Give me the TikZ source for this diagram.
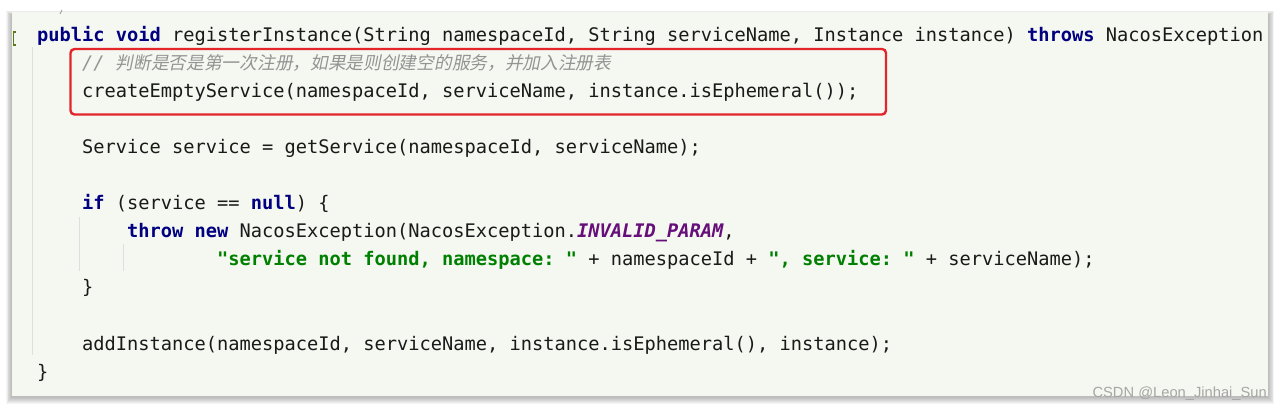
\documentclass[tikz,border=0pt]{standalone}
\usepackage{fontspec}
\newfontfamily\code{DejaVu Sans Mono}
\newfontfamily\cjk{Noto Sans CJK SC}[FakeSlant=0.2]
\newfontfamily\wmfont{Liberation Sans}
\definecolor{kw}{HTML}{000080}
\definecolor{strc}{HTML}{008000}
\definecolor{constc}{HTML}{660E7A}
\definecolor{cmt}{HTML}{949494}
\definecolor{txt}{HTML}{1A1A1A}
\definecolor{panel}{HTML}{F4F8F0}
\definecolor{guide}{HTML}{DEDEDE}
\definecolor{redbox}{HTML}{E4262A}
\definecolor{wm}{HTML}{A6A6A6}
\newcommand{\K}[1]{{\bfseries\color{kw}#1}}
\newcommand{\Sg}[1]{{\bfseries\color{strc}#1}}
\newcommand{\Cn}[1]{{\bfseries\itshape\color{constc}#1}}
\frenchspacing
\begin{document}
\begin{tikzpicture}[x=1pt,y=-1pt,
  codeline/.style={anchor=base west,inner sep=0pt,outer sep=0pt,text=txt,
    font=\code\frenchspacing\fontsize{18.69pt}{20pt}\selectfont},
  guideline/.style={draw=guide,line width=1pt}]
\useasboundingbox (0,0) rectangle (1280,411);
\fill[white] (0,0) rectangle (1280,411);
% shadow
\foreach \k in {1,...,7}{
  \fill[black,opacity=0.04] (12-\k*0.9,12+3-\k*0.6) rectangle (1268+\k*0.9,396+1.5+\k*0.9);
}
% panel
\fill[panel] (12,12) rectangle (1268,396);
% gutter marker and fragment
\draw[draw={rgb,255:red,90;green,122;blue,26},line width=1.4pt] (16,32) -- (13.5,32) -- (13.5,45) -- (16,45);
\draw[gray!70,line width=0.9pt] (62,10) -- (60,14);
% indent guides
\draw[guideline] (32,47) -- (32,355);
\draw[guideline] (79,217) -- (79,271);
\draw[guideline] (123,244) -- (123,271);
% code
\node[codeline] (l1) at (37,42) {\K{public} \K{void} registerInstance(String namespaceId, String serviceName, Instance instance) \K{throws} NacosException};
\node[codeline] (l2) at (82,70) {{\itshape\color{cmt}// }{\cjk\color{cmt}\fontsize{17.7pt}{20pt}\selectfont 判断是否是第一次注册，如果是则创建空的服务，并加入注册表}};
\node[codeline] (l3) at (82,98) {createEmptyService(namespaceId, serviceName, instance.isEphemeral());};
\node[codeline] (l5) at (82,154) {Service service = getService(namespaceId, serviceName);};
\node[codeline] (l7) at (82,210) {\K{if} (service == \K{null}) \{};
\node[codeline] (l8) at (127,238) {\K{throw} \K{new} NacosException(NacosException.\Cn{INVALID\_PARAM},};
\node[codeline] (l9) at (217,266) {\Sg{"service not found, namespace: "} + namespaceId + \Sg{", service: "} + serviceName);};
\node[codeline] (l10) at (82,294) {\}};
\node[codeline] (l12) at (82,351) {addInstance(namespaceId, serviceName, instance.isEphemeral(), instance);};
\node[codeline] (l13) at (37,379) {\}};
% highlight box
\draw[redbox,line width=2.4pt,rounded corners=4pt] (70.5,49) rectangle (886,114.5);
% watermark
\node[anchor=base east,inner sep=0pt,text=wm,font=\wmfont\fontsize{14.7pt}{15pt}\selectfont] (wmk) at (1267,398) {CSDN @Leon\_Jinhai\_Sun};
\end{tikzpicture}
\end{document}
